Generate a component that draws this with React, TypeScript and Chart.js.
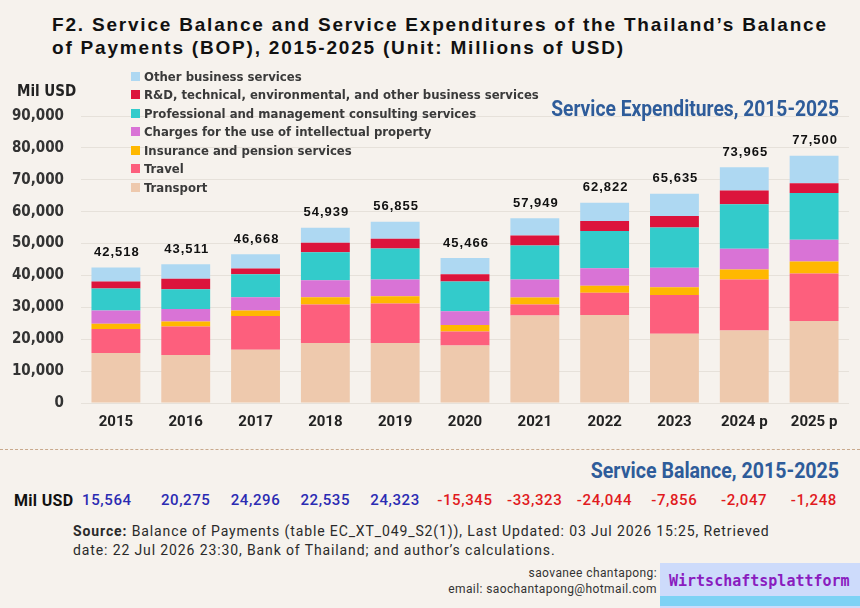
import { useEffect, useRef } from 'react'
import { Chart, registerables } from 'chart.js'

Chart.register(...registerables)

const years = ['2015', '2016', '2017', '2018', '2019', '2020', '2021', '2022', '2023', '2024 p', '2025 p']

// stacked expenditure components (Mil USD)
const transport = [15660, 15030, 16700, 18790, 18790, 18060, 27460, 27560, 21720, 22760, 25680]
const travel = [7520, 8980, 10550, 12110, 12430, 4390, 3440, 7000, 12110, 15970, 14930]
const insurance = [1670, 1570, 1770, 2300, 2290, 1980, 2190, 2190, 2500, 3130, 3760]
const intellectual = [4170, 3860, 4180, 5320, 5220, 4380, 5640, 5530, 6060, 6480, 6790]
const professional = [6890, 6260, 7200, 8770, 9710, 9290, 10650, 11690, 12630, 13990, 14720]
const research = [2190, 3240, 1780, 2930, 3030, 2300, 3130, 3140, 3650, 4280, 3020]
const otherBusiness = [4418, 4571, 4488, 4719, 5385, 5066, 5439, 5712, 6965, 7355, 8600]

const totals = [42518, 43511, 46668, 54939, 56855, 45466, 57949, 62822, 65635, 73965, 77500]
const balance = [15564, 20275, 24296, 22535, 24323, -15345, -33323, -24044, -7856, -2047, -1248]

const series = [
  { label: 'Transport', data: transport, color: '#eec9ad' },
  { label: 'Travel', data: travel, color: '#fd5f7d' },
  { label: 'Insurance and pension services', data: insurance, color: '#ffb800' },
  { label: 'Charges for the use of intellectual property', data: intellectual, color: '#d973d6' },
  { label: 'Professional and management consulting services', data: professional, color: '#33cbcb' },
  { label: 'R&D, technical, environmental, and other business services', data: research, color: '#dc143c' },
  { label: 'Other business services', data: otherBusiness, color: '#aed8f2' },
]

const fmt = (v: number) => v.toLocaleString('en-US')

const condensed = '"DejaVu Sans Condensed", "DejaVu Sans", sans-serif'

export default function App() {
  const canvasRef = useRef<HTMLCanvasElement>(null)

  useEffect(() => {
    if (!canvasRef.current) return

    // total labels above each stack
    const totalsPlugin = {
      id: 'totals',
      afterDatasetsDraw(chart: any) {
        const { ctx } = chart
        const meta = chart.getDatasetMeta(series.length - 1)
        ctx.save()
        ctx.fillStyle = '#111'
        ctx.font = 'bold 13px "Liberation Sans", Arial, sans-serif'
        ctx.letterSpacing = '1px'
        ctx.textAlign = 'center'
        ctx.textBaseline = 'middle'
        meta.data.forEach((bar: any, i: number) => {
          ctx.fillText(fmt(totals[i]), bar.x + 1, bar.y - 15)
        })
        ctx.restore()
      },
    }

    const chart = new Chart(canvasRef.current, {
      type: 'bar',
      data: {
        labels: years,
        datasets: series.map(s => ({
          label: s.label,
          data: s.data,
          backgroundColor: s.color,
          borderWidth: 0,
          barPercentage: 0.7,
          categoryPercentage: 1,
        })),
      },
      options: {
        responsive: false,
        animation: false,
        layout: { padding: { top: 116, right: 11, left: 0, bottom: 0 } },
        plugins: {
          legend: { display: false },
          tooltip: { enabled: false },
        },
        scales: {
          x: {
            stacked: true,
            grid: { display: false, drawTicks: false },
            border: { display: false },
            ticks: {
              padding: 10,
              color: '#222',
              font: { family: 'Roboto, sans-serif', weight: 'bold', size: 15 },
            },
            afterFit: (scale: any) => {
              scale.height = 37
            },
          },
          y: {
            stacked: true,
            min: 0,
            max: 90000,
            grid: { color: '#e6e1da', lineWidth: 1, drawTicks: false },
            border: { display: false },
            ticks: {
              stepSize: 10000,
              padding: 17,
              color: '#333',
              font: { family: condensed, weight: 'bold', size: 15 },
              callback: (v: any) => fmt(Number(v)),
            },
            afterFit: (scale: any) => {
              scale.width = 81
            },
          },
        },
      },
      plugins: [totalsPlugin],
    })

    return () => chart.destroy()
  }, [])

  const legendItems = [...series].reverse()

  const heading = {
    position: 'absolute' as const,
    right: 21,
    fontWeight: 'bold',
    fontSize: 22,
    color: '#2e5c9a',
    transformOrigin: 'right center',
    whiteSpace: 'nowrap' as const,
  }

  return (
    <div
      style={{
        position: 'absolute',
        left: 0,
        top: 0,
        width: 860,
        height: 608,
        background: '#f6f2ed',
        overflow: 'hidden',
        fontFamily: 'Roboto, sans-serif',
      }}
    >
      <div
        style={{
          position: 'absolute',
          left: 52,
          top: 13,
          fontFamily: '"Liberation Sans", Arial, sans-serif',
          fontWeight: 'bold',
          fontSize: 19,
          letterSpacing: 1.8,
          lineHeight: '23px',
          color: '#111',
          whiteSpace: 'nowrap',
        }}
      >
        F2. Service Balance and Service Expenditures of the Thailand’s Balance
        <br />
        of Payments (BOP), 2015-2025 (Unit: Millions of USD)
      </div>

      <canvas
        ref={canvasRef}
        width={860}
        height={440}
        style={{ position: 'absolute', left: 0, top: 0, width: 860, height: 440 }}
      />

      <div
        style={{
          position: 'absolute',
          left: 17,
          top: 82,
          fontFamily: condensed,
          fontWeight: 'bold',
          fontSize: 15,
          color: '#222',
        }}
      >
        Mil USD
      </div>

      <div style={{ position: 'absolute', left: 131, top: 67 }}>
        {legendItems.map(s => (
          <div
            key={s.label}
            style={{
              display: 'flex',
              alignItems: 'center',
              height: 18.5,
              fontFamily: condensed,
              fontWeight: 'bold',
              fontSize: 13,
              color: '#3a3a3a',
              whiteSpace: 'nowrap',
            }}
          >
            <span
              style={{ width: 9, height: 9, background: s.color, marginRight: 4, display: 'inline-block' }}
            />
            {s.label}
          </div>
        ))}
      </div>

      <div style={{ ...heading, top: 96, transform: 'scaleX(0.875)' }}>Service Expenditures, 2015-2025</div>

      <div
        style={{
          position: 'absolute',
          left: 0,
          top: 449,
          width: 860,
          borderTop: '1.5px dashed #c9a98c',
        }}
      />

      <div style={{ ...heading, top: 458, transform: 'scaleX(0.89)' }}>Service Balance, 2015-2025</div>

      <div
        style={{
          position: 'absolute',
          left: 14,
          top: 491,
          fontWeight: 'bold',
          fontSize: 16,
          letterSpacing: 0.3,
          color: '#111',
        }}
      >
        Mil USD
      </div>
      <div style={{ position: 'absolute', left: 81, top: 491, display: 'flex' }}>
        {balance.map((v, i) => (
          <div
            key={years[i]}
            style={{
              width: 69.8,
              textAlign: 'center',
              fontSize: 15,
              fontWeight: 500,
              letterSpacing: 0.6,
              color: v >= 0 ? '#2b2bb3' : '#e11b1e',
              transform: i === 0 ? 'translateX(-9px)' : undefined,
            }}
          >
            {fmt(v)}
          </div>
        ))}
      </div>

      <div
        style={{
          position: 'absolute',
          left: 73,
          top: 522,
          fontSize: 14,
          letterSpacing: 0.88,
          lineHeight: '19px',
          color: '#2a2a2a',
          whiteSpace: 'nowrap',
        }}
      >
        <b>Source:</b> Balance of Payments (table EC_XT_049_S2(1)), Last Updated: 03 Jul 2026 15:25, Retrieved
        <br />
        date: 22 Jul 2026 23:30, Bank of Thailand; and author’s calculations.
      </div>

      <div
        style={{
          position: 'absolute',
          right: 203,
          top: 565,
          fontSize: 12,
          letterSpacing: 0.4,
          lineHeight: '16px',
          color: '#333',
          textAlign: 'right',
          whiteSpace: 'nowrap',
        }}
      >
        saovanee chantapong:
        <br />
        email: saochantapong@hotmail.com
      </div>

      <div
        style={{
          position: 'absolute',
          left: 660,
          top: 563,
          width: 200,
          height: 45,
          background: '#cddbfb',
        }}
      >
        <div
          style={{
            position: 'absolute',
            left: 9,
            top: 9,
            fontFamily: '"DejaVu Sans Mono", monospace',
            fontWeight: 'bold',
            fontSize: 15,
            color: '#8a1cbf',
            whiteSpace: 'nowrap',
          }}
        >
          Wirtschaftsplattform
        </div>
        <div
          style={{ position: 'absolute', left: 0, bottom: 2, width: 200, height: 10, background: '#7dd2f5' }}
        />
      </div>
    </div>
  )
}
